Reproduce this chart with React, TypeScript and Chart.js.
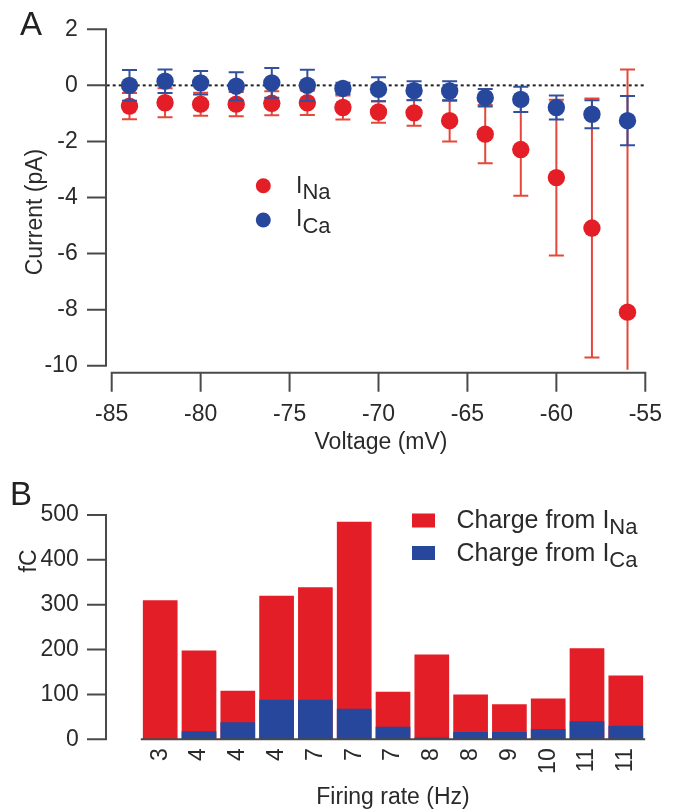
import React, { useEffect, useRef } from 'react';
import { Chart, registerables } from 'chart.js';

Chart.register(...registerables);

// ---------- Panel A data ----------
const voltages = [-84, -82, -80, -78, -76, -74, -72, -70, -68, -66, -64, -62, -60, -58, -56];
const naMean = [-0.74, -0.62, -0.67, -0.67, -0.64, -0.62, -0.79, -0.95, -0.98, -1.26, -1.74, -2.29, -3.29, -5.09, -8.09];
const naErr = [0.47, 0.52, 0.41, 0.43, 0.43, 0.44, 0.43, 0.38, 0.46, 0.74, 1.04, 1.65, 2.78, 4.62, 8.66];
const caMean = [0.0, 0.15, 0.09, -0.03, 0.09, 0.0, -0.11, -0.14, -0.19, -0.2, -0.44, -0.5, -0.79, -1.03, -1.26];
const caErr = [0.55, 0.42, 0.42, 0.5, 0.53, 0.56, 0.2, 0.43, 0.34, 0.35, 0.31, 0.45, 0.43, 0.5, 0.88];

// ---------- Panel B data ----------
const rateLabels = ['3', '4', '4', '4', '7', '7', '7', '8', '8', '9', '10', '11', '11'];
const naCharge = [310, 198, 108, 320, 339, 485, 106, 189, 100, 78, 91, 203, 142];
const caCharge = [0, 18, 38, 88, 88, 68, 28, 4, 16, 16, 23, 40, 30];

const FONT = '"Liberation Sans", Arial, Helvetica, sans-serif';
const TEXT = '#2a2a2a';
const AXIS = '#4a4a4a';
const RED = '#e31e26';
const BLUE = '#27479d';
const RED_ERR = '#e5483a';
const BLUE_ERR = '#33509f';

function subText(ctx: CanvasRenderingContext2D, x: number, y: number, main: string, sub: string, size: number, subSize: number, dy: number) {
  ctx.font = `${size}px ${FONT}`;
  ctx.textAlign = 'left';
  ctx.textBaseline = 'alphabetic';
  ctx.fillText(main, x, y);
  const w = ctx.measureText(main).width;
  ctx.font = `${subSize}px ${FONT}`;
  ctx.fillText(sub, x + w, y + dy);
}

function noPad(s: any) {
  s.paddingTop = 0;
  s.paddingBottom = 0;
  s.paddingLeft = 0;
  s.paddingRight = 0;
}

const errorBarPlugin = {
  id: 'errorBars',
  beforeDatasetDraw(chart: any, args: any) {
    const ds = chart.data.datasets[args.index];
    const errs: number[] = ds.errors;
    if (!errs) return;
    const ctx = chart.ctx;
    const ys = chart.scales.y;
    const clipBottom = chart.chartArea.bottom + 4;
    ctx.save();
    ctx.strokeStyle = ds.errColor;
    ctx.lineWidth = 2;
    args.meta.data.forEach((pt: any, i: number) => {
      const m = ds.data[i].y;
      const x = pt.x;
      const top = ys.getPixelForValue(m + errs[i]);
      const rawBot = ys.getPixelForValue(m - errs[i]);
      const clipped = rawBot > clipBottom;
      const bot = clipped ? clipBottom : rawBot;
      ctx.beginPath();
      ctx.moveTo(x, top);
      ctx.lineTo(x, bot);
      ctx.moveTo(x - 7.5, top);
      ctx.lineTo(x + 7.5, top);
      if (!clipped) {
        ctx.moveTo(x - 7.5, bot);
        ctx.lineTo(x + 7.5, bot);
      }
      ctx.stroke();
    });
    ctx.restore();
  },
};

const panelAPlugin = {
  id: 'panelA',
  beforeDatasetsDraw(chart: any) {
    const ctx = chart.ctx;
    const xs = chart.scales.x;
    const ys = chart.scales.y;
    const y0 = ys.getPixelForValue(0);
    ctx.save();
    ctx.strokeStyle = '#222';
    ctx.lineWidth = 2;
    ctx.setLineDash([3, 3]);
    ctx.beginPath();
    ctx.moveTo(chart.chartArea.left - 5, y0);
    ctx.lineTo(xs.getPixelForValue(-55), y0);
    ctx.stroke();
    ctx.restore();
  },
  afterDraw(chart: any) {
    const ctx = chart.ctx;
    const xs = chart.scales.x;
    const ys = chart.scales.y;
    const ca = chart.chartArea;
    ctx.save();
    ctx.strokeStyle = AXIS;
    ctx.lineWidth = 2;
    // y axis
    const ax = ca.left - 5.7;
    ctx.beginPath();
    ctx.moveTo(ax, ys.getPixelForValue(2));
    ctx.lineTo(ax, ys.getPixelForValue(-10));
    ys.ticks.forEach((t: any) => {
      const p = ys.getPixelForValue(t.value);
      ctx.moveTo(ax - 19, p);
      ctx.lineTo(ax + 1, p);
    });
    // x axis
    const ay = ca.bottom + 7;
    ctx.moveTo(xs.getPixelForValue(-85) - 1, ay);
    ctx.lineTo(xs.getPixelForValue(-55) + 1, ay);
    xs.ticks.forEach((t: any) => {
      const p = xs.getPixelForValue(t.value);
      ctx.moveTo(p, ay);
      ctx.lineTo(p, ay + 19);
    });
    ctx.stroke();

    ctx.fillStyle = '#222';
    ctx.font = `33px ${FONT}`;
    ctx.textAlign = 'left';
    ctx.textBaseline = 'alphabetic';
    ctx.fillText('A', 20, 35);

    ctx.fillStyle = TEXT;
    ctx.font = `23px ${FONT}`;
    ctx.textAlign = 'center';
    ctx.fillText('Voltage (mV)', 381, 449);
    ctx.save();
    ctx.translate(42, 212);
    ctx.rotate(-Math.PI / 2);
    ctx.fillText('Current (pA)', 0, 0);
    ctx.restore();

    // legend
    ctx.fillStyle = RED;
    ctx.beginPath();
    ctx.arc(263.3, 185.7, 7.5, 0, Math.PI * 2);
    ctx.fill();
    ctx.fillStyle = BLUE;
    ctx.beginPath();
    ctx.arc(263.3, 220, 7.5, 0, Math.PI * 2);
    ctx.fill();
    ctx.fillStyle = TEXT;
    subText(ctx, 296, 193, 'I', 'Na', 23, 22, 6);
    subText(ctx, 296, 226, 'I', 'Ca', 23, 22, 7);
    ctx.restore();
  },
};

const panelBPlugin = {
  id: 'panelB',
  afterDraw(chart: any) {
    const ctx = chart.ctx;
    const ys = chart.scales.y;
    const ca = chart.chartArea;
    ctx.save();
    ctx.strokeStyle = AXIS;
    ctx.lineWidth = 2;
    const ax = 106;
    ctx.beginPath();
    ctx.moveTo(ax, ys.getPixelForValue(500));
    ctx.lineTo(ax, ys.getPixelForValue(0));
    ys.ticks.forEach((t: any) => {
      const p = ys.getPixelForValue(t.value);
      ctx.moveTo(ax - 19, p);
      ctx.lineTo(ax + 1, p);
    });
    const by = ys.getPixelForValue(0);
    ctx.moveTo(ca.left, by);
    ctx.lineTo(ca.right, by);
    ctx.stroke();

    ctx.fillStyle = '#222';
    ctx.font = `33px ${FONT}`;
    ctx.textAlign = 'left';
    ctx.textBaseline = 'alphabetic';
    ctx.fillText('B', 10, 45);

    ctx.fillStyle = TEXT;
    ctx.font = `23px ${FONT}`;
    ctx.textAlign = 'center';
    ctx.fillText('Firing rate (Hz)', 393, 344);
    ctx.save();
    ctx.translate(36, 101);
    ctx.rotate(-Math.PI / 2);
    ctx.fillText('fC', 0, 0);
    ctx.restore();

    // legend
    ctx.fillStyle = RED;
    ctx.fillRect(412, 53.5, 23, 14);
    ctx.fillStyle = BLUE;
    ctx.fillRect(412, 86, 23, 14);
    ctx.fillStyle = TEXT;
    subText(ctx, 456.5, 67.5, 'Charge from I', 'Na', 25, 22, 6);
    subText(ctx, 456.5, 100.5, 'Charge from I', 'Ca', 25, 22, 6);
    ctx.restore();
  },
};

export default function App() {
  const refA = useRef<HTMLCanvasElement>(null);
  const refB = useRef<HTMLCanvasElement>(null);

  useEffect(() => {
    const tickFont = { family: FONT, size: 23 };
    const chartA = new Chart(refA.current as HTMLCanvasElement, {
      type: 'scatter',
      data: {
        datasets: [
          {
            label: 'INa',
            data: voltages.map((v, i) => ({ x: v, y: naMean[i] })),
            backgroundColor: RED,
            borderWidth: 0,
            pointRadius: 8.7,
            order: 2,
            errors: naErr,
            errColor: RED_ERR,
          } as any,
          {
            label: 'ICa',
            data: voltages.map((v, i) => ({ x: v, y: caMean[i] })),
            backgroundColor: BLUE,
            borderWidth: 0,
            pointRadius: 8.7,
            order: 1,
            errors: caErr,
            errColor: BLUE_ERR,
          } as any,
        ],
      },
      options: {
        responsive: false,
        animation: false,
        layout: { padding: { left: 0, right: 33.7, top: 29.3, bottom: 0 } },
        plugins: { legend: { display: false }, tooltip: { enabled: false } },
        scales: {
          x: {
            type: 'linear',
            min: -85,
            max: -55,
            ticks: { stepSize: 5, padding: 35, font: tickFont, color: TEXT },
            grid: { display: false, drawTicks: false },
            border: { display: false },
            afterFit: (s: any) => { s.height = 94.3; noPad(s); },
          },
          y: {
            min: -10,
            max: 2,
            ticks: { stepSize: 2, padding: 34, font: tickFont, color: TEXT },
            grid: { display: false, drawTicks: false },
            border: { display: false },
            afterFit: (s: any) => { s.width = 111.7; noPad(s); },
          },
        },
      } as any,
      plugins: [errorBarPlugin, panelAPlugin],
    });

    const chartB = new Chart(refB.current as HTMLCanvasElement, {
      type: 'bar',
      data: {
        labels: rateLabels,
        datasets: [
          {
            label: 'Charge from INa',
            data: naCharge,
            backgroundColor: RED,
            borderWidth: 0,
            barPercentage: 0.894,
            categoryPercentage: 1,
            order: 2,
          },
          {
            label: 'Charge from ICa',
            data: caCharge,
            backgroundColor: BLUE,
            borderWidth: 0,
            barPercentage: 0.894,
            categoryPercentage: 1,
            order: 1,
          },
        ],
      },
      options: {
        responsive: false,
        animation: false,
        layout: { padding: { left: 0, right: 33.8, top: 55, bottom: 0 } },
        plugins: { legend: { display: false }, tooltip: { enabled: false } },
        scales: {
          x: {
            stacked: true,
            ticks: { autoSkip: false, minRotation: 90, maxRotation: 90, padding: 9, font: tickFont, color: TEXT },
            grid: { display: false, drawTicks: false },
            border: { display: false },
            afterFit: (s: any) => { s.height = 71.7; noPad(s); },
          },
          y: {
            min: 0,
            max: 500,
            ticks: { stepSize: 100, padding: 62, font: tickFont, color: TEXT },
            grid: { display: false, drawTicks: false },
            border: { display: false },
            afterFit: (s: any) => { s.width = 140.8; noPad(s); },
          },
        },
      } as any,
      plugins: [panelBPlugin],
    });

    return () => {
      chartA.destroy();
      chartB.destroy();
    };
  }, []);

  return (
    <div style={{ position: 'absolute', left: 0, top: 0, width: 679, height: 811, background: '#fff', overflow: 'hidden' }}>
      <canvas ref={refA} width={679} height={460} style={{ position: 'absolute', left: 0, top: 0, width: 679, height: 460 }} />
      <canvas ref={refB} width={679} height={351} style={{ position: 'absolute', left: 0, top: 460, width: 679, height: 351 }} />
    </div>
  );
}
